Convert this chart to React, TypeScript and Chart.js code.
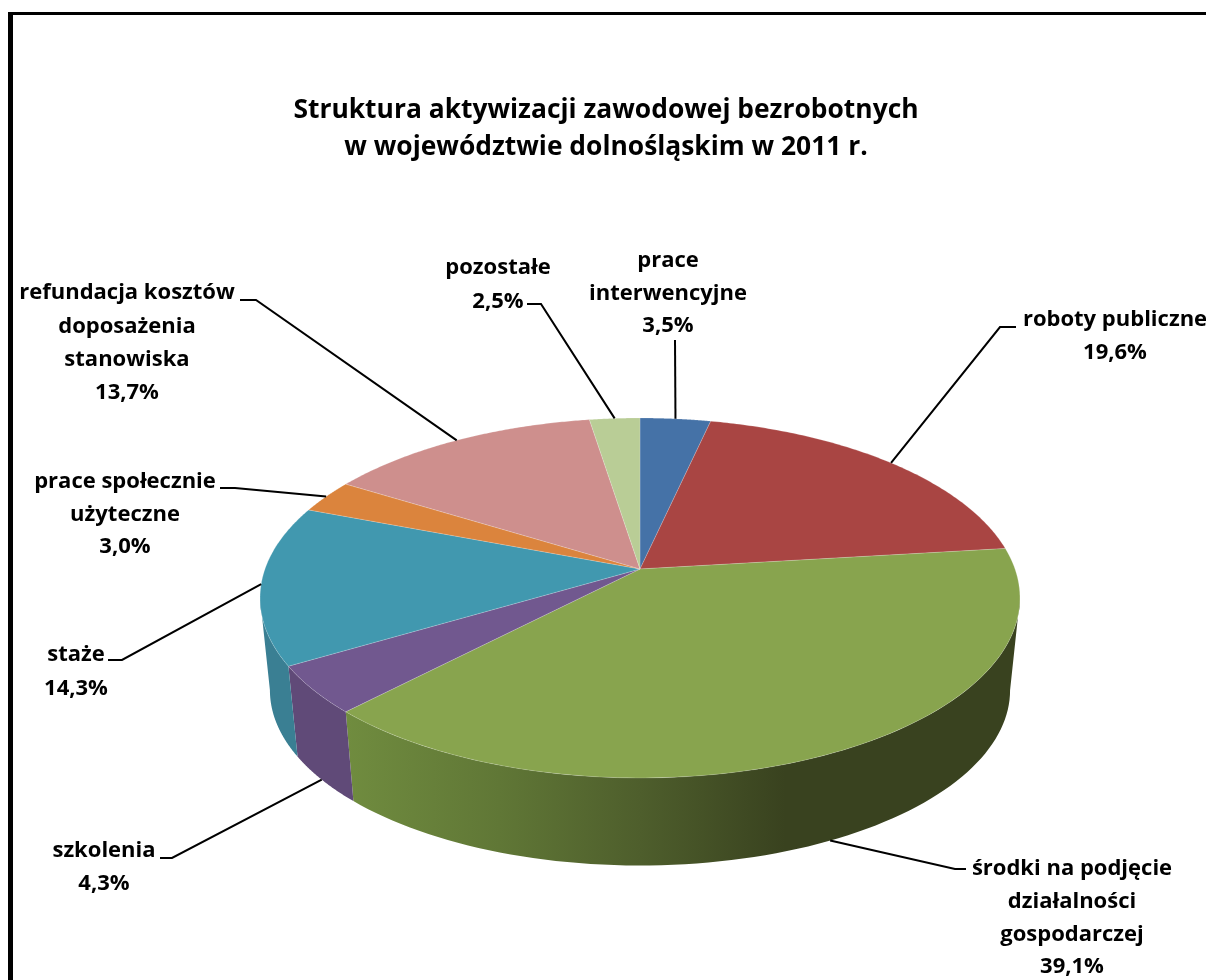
import React, { useEffect, useRef } from "react";
import { Chart, registerables } from "chart.js";

Chart.register(...registerables);

const titleLines = ["Struktura aktywizacji zawodowej bezrobotnych", "w województwie dolnośląskim w 2011 r."];
const categories = [
  "prace interwencyjne",
  "roboty publiczne",
  "środki na podjęcie działalności gospodarczej",
  "szkolenia",
  "staże",
  "prace społecznie użyteczne",
  "refundacja kosztów doposażenia stanowiska",
  "pozostałe",
];
const values = [3.5, 19.6, 39.1, 4.3, 14.3, 3.0, 13.7, 2.5];
const categoryLines = [
  ["prace", "interwencyjne"],
  ["roboty publiczne"],
  ["środki na podjęcie", "działalności", "gospodarczej"],
  ["szkolenia"],
  ["staże"],
  ["prace społecznie", "użyteczne"],
  ["refundacja kosztów", "doposażenia", "stanowiska"],
  ["pozostałe"],
];
const topColors = ["#4572a7", "#a94543", "#88a44e", "#71588f", "#4198af", "#db843d", "#ce8f8d", "#b9cd96"];
const wallColors = ["#34557c", "#7d3331", "#6f8c3e", "#604a78", "#3a7f93", "#a3622d", "#986a69", "#8a986f"];

const FONT = "'Open Sans', sans-serif";

// Perspective projection of the unit pie onto the page
const G = { cx: 640, cy: 569, A: 375, B: 175.3, k: 0.161, bottomCy: 662, bottomScale: 0.974 };

function project(angle: number, bottom = false) {
  const u = Math.cos(angle);
  const v = Math.sin(angle);
  const d = 1 - G.k * v;
  const s = bottom ? G.bottomScale : 1;
  return { x: G.cx + (s * G.A * u) / d, y: (bottom ? G.bottomCy : G.cy) + (s * G.B * v) / d };
}

// Label blocks and leader elbows, in category order
const labelLayout = [
  { x: 668, y: 261, elbow: [[675, 340]], bottom: false, lh: 32.5 },
  { x: 1115, y: 320, elbow: [[1016, 327], [1000, 327]], bottom: false, lh: 33 },
  { x: 1072, y: 869, elbow: [[966, 869], [955, 869]], bottom: true, lh: 32.7 },
  { x: 104, y: 851, elbow: [[160, 858], [172, 858]], bottom: true, lh: 33 },
  { x: 76, y: 655, elbow: [[108, 660], [122, 660]], bottom: false, lh: 34 },
  { x: 125, y: 482, elbow: [[220, 488], [235, 488]], bottom: false, lh: 32.5 },
  { x: 127, y: 293, elbow: [[240, 300], [256, 300]], bottom: false, lh: 33.3 },
  { x: 498, y: 268, elbow: [[527, 304], [541, 304]], bottom: false, lh: 34 },
];

const pie3d = {
  id: "pie3d",
  beforeDraw(chart: any) {
    const { ctx, width, height } = chart;
    ctx.save();
    ctx.fillStyle = "#ffffff";
    ctx.fillRect(0, 0, width, height);
    ctx.fillStyle = "#000000";
    ctx.fillRect(8, 12, width - 8, 3);
    ctx.fillRect(8, 12, 5, height - 12);
    ctx.restore();
  },
  beforeDatasetsDraw(chart: any) {
    const { ctx } = chart;
    const arcs = chart.getDatasetMeta(0).data as any[];
    const sil = Math.asin(G.k);
    const visStart = sil;
    const visEnd = Math.PI - sil;

    ctx.save();
    arcs.forEach((arc, i) => {
      const norm = (a: number) => {
        let r = a;
        while (r < -Math.PI / 2) r += Math.PI * 2;
        return r;
      };
      const s = Math.max(norm(arc.startAngle), visStart);
      const e = Math.min(norm(arc.endAngle), visEnd);
      if (e <= s) return;
      let fill: any = wallColors[i];
      if (i === 2) {
        const g = ctx.createLinearGradient(346, 0, 785, 0);
        g.addColorStop(0, "#708c3f");
        g.addColorStop(0.35, "#607736");
        g.addColorStop(0.67, "#4e5e2c");
        g.addColorStop(1, "#39421f");
        fill = g;
      }
      ctx.beginPath();
      const steps = 80;
      for (let n = 0; n <= steps; n++) {
        const p = project(s + ((e - s) * n) / steps);
        n ? ctx.lineTo(p.x, p.y) : ctx.moveTo(p.x, p.y);
      }
      for (let n = steps; n >= 0; n--) {
        const p = project(s + ((e - s) * n) / steps, true);
        ctx.lineTo(p.x, p.y);
      }
      ctx.closePath();
      ctx.fillStyle = fill;
      ctx.fill();
    });
    arcs.forEach((arc, i) => {
      ctx.beginPath();
      ctx.moveTo(G.cx, G.cy);
      const steps = 120;
      for (let n = 0; n <= steps; n++) {
        const p = project(arc.startAngle + ((arc.endAngle - arc.startAngle) * n) / steps);
        ctx.lineTo(p.x, p.y);
      }
      ctx.closePath();
      ctx.fillStyle = arc.options.backgroundColor;
      ctx.fill();
      ctx.strokeStyle = "rgba(255,255,255,0.18)";
      ctx.lineWidth = 1;
      ctx.stroke();
    });
    ctx.strokeStyle = "#000000";
    ctx.lineWidth = 2;
    ctx.fillStyle = "#000000";
    ctx.textAlign = "center";
    ctx.textBaseline = "middle";
    ctx.font = `bold 22px ${FONT}`;
    arcs.forEach((arc, i) => {
      const lay = labelLayout[i];
      const p = project((arc.startAngle + arc.endAngle) / 2, lay.bottom);
      ctx.beginPath();
      lay.elbow.forEach((pt, n) => (n ? ctx.lineTo(pt[0], pt[1]) : ctx.moveTo(pt[0], pt[1])));
      ctx.lineTo(p.x, p.y);
      ctx.stroke();
      const lines = [...categoryLines[i], values[i].toFixed(1).replace(".", ",") + "%"];
      lines.forEach((t, n) => ctx.fillText(t, lay.x, lay.y + n * lay.lh));
    });
    ctx.restore();
    return false;
  },
};

export default function App() {
  const ref = useRef<HTMLCanvasElement>(null);
  useEffect(() => {
    document.body.style.margin = "0";
    const chart = new Chart(ref.current!, {
      type: "pie",
      data: {
        labels: categories,
        datasets: [{ data: values, backgroundColor: topColors, borderWidth: 0 }],
      },
      options: {
        responsive: false,
        animation: false,
        rotation: 0,
        layout: { padding: { left: 6, top: 92 } },
        plugins: {
          legend: { display: false },
          tooltip: { enabled: false },
          title: {
            display: true,
            text: titleLines,
            color: "#000000",
            font: { family: FONT, size: 26.4, weight: "bold", lineHeight: 1.4 },
            padding: { top: 0, bottom: 0 },
          },
        },
      } as any,
      plugins: [pie3d as any],
    });
    return () => chart.destroy();
  }, []);
  return <canvas ref={ref} width={1206} height={980} style={{ display: "block" }} />;
}
